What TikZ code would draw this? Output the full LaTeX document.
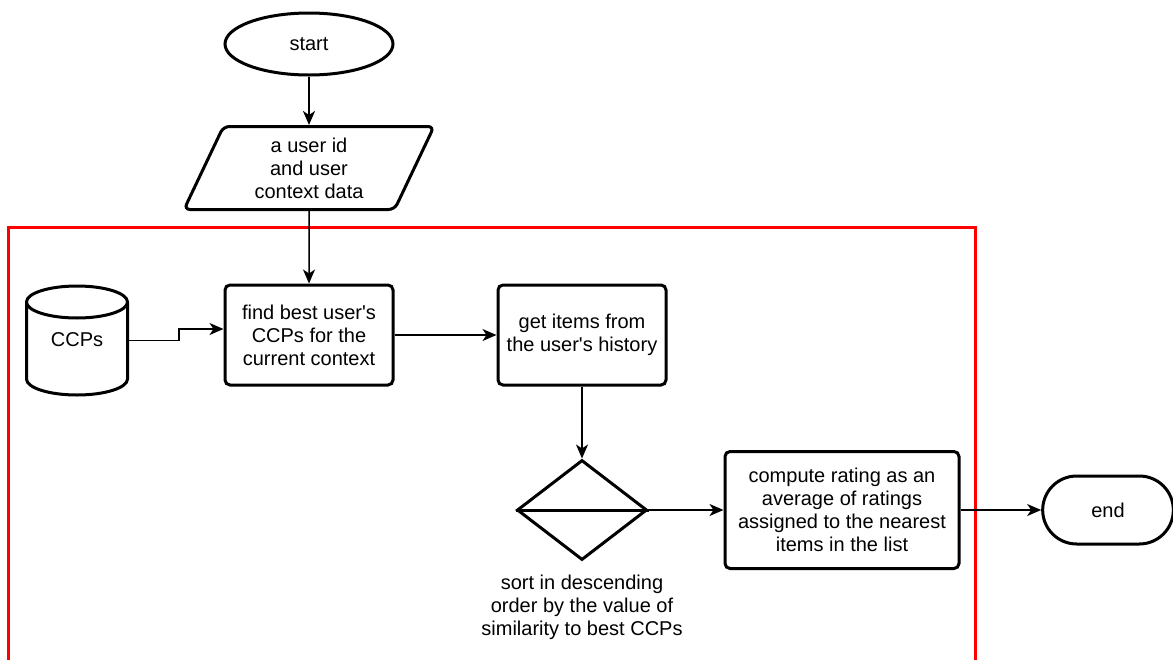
\documentclass[tikz,border=0pt]{standalone}
\usepackage{fontspec}
\setmainfont{Liberation Sans}
\usetikzlibrary{shapes, arrows.meta}

\begin{document}
\begin{tikzpicture}[node distance=2.5cm, auto, >={Stealth[length=7pt, width=6pt, inset=2pt]}, font=\fontsize{10}{11.5}\selectfont]
    \tikzstyle{block} = [rectangle, draw, line width=1.5pt, align=center, rounded corners=2.5pt, minimum width=84pt, minimum height=50pt, inner sep=0pt]
    \tikzstyle{io} = [trapezium, trapezium left angle=57, trapezium right angle=123, trapezium stretches body, draw, line width=1.5pt, rounded corners=3pt, align=center, minimum width=125pt, minimum height=41.5pt, inner sep=0pt]
    \tikzstyle{terminal} = [draw, line width=1.5pt, minimum width=65pt, minimum height=34pt]
    \tikzstyle{line} = [draw, ->, line width=0.75pt]

    \useasboundingbox (0,0) rectangle (586.5pt,-329.5pt);

    % Frame
    \draw [red, line width=1.5pt] (4pt,-113.5pt) rectangle (487.5pt,-360pt);

    % Nodes
    \node [terminal, ellipse, minimum width=84pt, minimum height=31pt] (start) at (154.5pt,-22pt) {start};
    \node [io, below of=start, node distance=62pt] (input) {a user id\\and user\\context data};
    \node [block, below of=input, node distance=83.5pt] (find) {find best user\textquotesingle s\\CCPs for the\\current context};
    \node [cylinder, shape border rotate=90, draw, line width=1.5pt, aspect=2.4, minimum width=50.5pt, minimum height=54.5pt, left of=find, node distance=116pt, yshift=-2.75pt, anchor=shape center] (ccps) {};
    \node at ([yshift=0.5pt]ccps.shape center) (ccpstext) {CCPs};
    \node [block, right of=find, node distance=136.5pt] (items) {get items from\\the user\textquotesingle s history};
    \node [diamond, draw, line width=1.5pt, minimum width=65pt, minimum height=50pt, inner sep=0pt, below of=items, node distance=87.5pt] (sort) {};
    \node [below of=sort, node distance=48.5pt, align=center] (sortlabel) {sort in descending\\order by the value of\\similarity to best CCPs};
    \node [block, right of=sort, node distance=130pt, minimum width=117pt, minimum height=58.5pt] (rating) {compute rating as an\\average of ratings\\assigned to the nearest\\items in the list};
    \node [terminal, rounded rectangle, minimum width=72pt, right of=rating, node distance=133pt] (end) {end};

    \draw [line width=1.5pt] (sort.west) -- (sort.east);

    % Paths
    \path [line, line width=1.1pt] (start) -- (input);
    \path [line] (input) -- (find);
    \path [line] (ccps.east |- ccps.shape center) -- ++(25pt,0) |- ([yshift=3pt]find.west);
    \path [line] (find) -- (items);
    \path [line] (items) -- (sort);
    \path [line] (sort) -- (rating);
    \path [line] (rating) -- (end);

\end{tikzpicture}
\end{document}
